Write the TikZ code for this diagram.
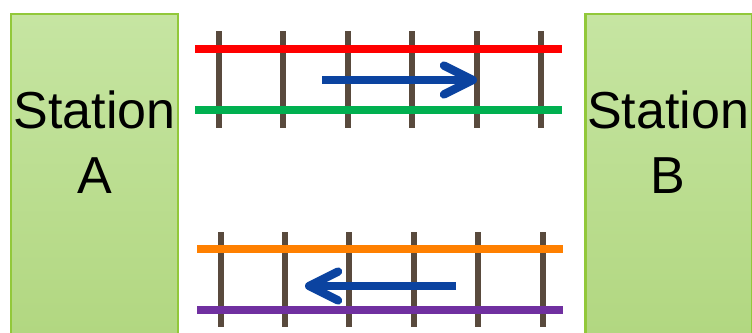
\documentclass[tikz,border=0pt]{standalone}
\usepackage{fontspec}
\setmainfont{Liberation Sans}
\usetikzlibrary{arrows.meta}

\definecolor{stationtop}{HTML}{C6E5A2}
\definecolor{stationbot}{HTML}{B0D67E}
\definecolor{stationedge}{HTML}{92C83A}
\definecolor{sleeper}{HTML}{594A3D}
\definecolor{trainblue}{HTML}{0B43A0}
\definecolor{railred}{HTML}{FF0000}
\definecolor{railgreen}{HTML}{00B050}
\definecolor{railorange}{HTML}{FF8000}
\definecolor{railpurple}{HTML}{7030A0}

\begin{document}
\begin{tikzpicture}[x=0.025cm,y=-0.025cm,
        station/.style={rectangle,draw=stationedge,line width=1.7pt,
            top color=stationtop,bottom color=stationbot,
            minimum width=4.18cm,minimum height=8.65cm,inner sep=0pt},
        stationlabel/.style={align=center,inner sep=0pt,
            font=\fontsize{37}{46.1}\selectfont},
        tie/.style={draw=sleeper,line width=0.17cm},
        rail/.style={draw=#1,line width=0.19cm},
        trainarrow/.style={draw=trainblue,line width=0.21cm,
            -{Straight Barb[round,length=0.72cm,width=0.72cm]}}]

    \clip (0,0) rectangle (752,332);
    \fill[white] (0,0) rectangle (752,332);

    % stations
    \node[station] (stationA) at (94.5,187) {};
    \node[station] (stationB) at (669,187) {};
    \node[stationlabel] (labelA) at (94.5,142.5) {Station\\A};
    \node[stationlabel] (labelB) at (668,142) {Station\\B};

    % upper track
    \foreach \x in {219,283,348,412,477,541}
        \draw[tie] (\x,31) -- (\x,128);
    \draw[rail=railred] (195,49) -- (562,49);
    \draw[rail=railgreen] (195,110) -- (562,110);

    % lower track
    \foreach \x in {221,285,349,414,478,543}
        \draw[tie] (\x,232) -- (\x,327);
    \draw[rail=railorange] (197,249) -- (563,249);
    \draw[rail=railpurple] (197,310) -- (563,310);

    % directions
    \coordinate (eastTail) at (322,80);
    \coordinate (eastTip) at (477,80);
    \coordinate (westTail) at (456,286);
    \coordinate (westTip) at (305,286);
    \draw[trainarrow] (eastTail) -- (eastTip);
    \draw[trainarrow] (westTail) -- (westTip);
\end{tikzpicture}
\end{document}
